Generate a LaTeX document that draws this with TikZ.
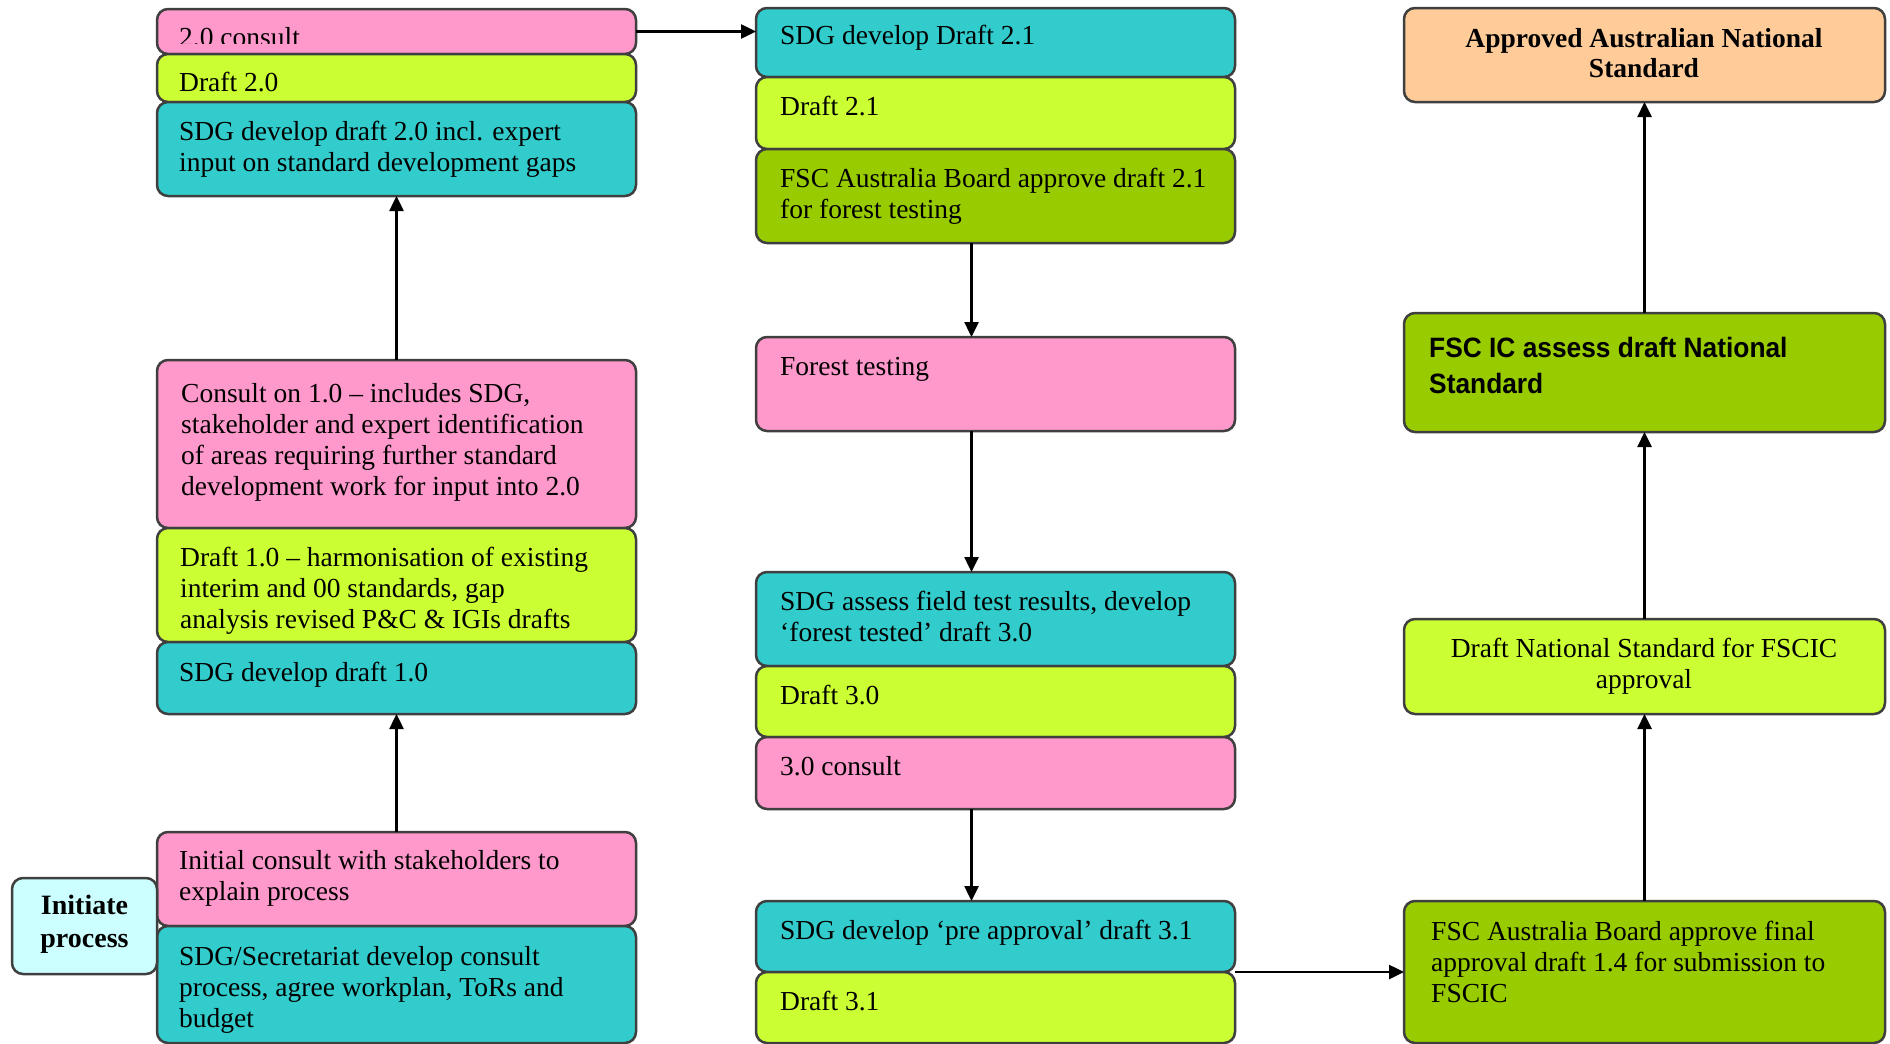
\documentclass[tikz,border=0pt]{standalone}
\usepackage{fontspec}
\setmainfont{Liberation Serif}
\newfontfamily\hsans[FakeStretch=0.94]{Liberation Sans}
\usetikzlibrary{arrows.meta}
\definecolor{cpink}{HTML}{FF99CC}
\definecolor{clime}{HTML}{CCFF33}
\definecolor{cteal}{HTML}{33CCCC}
\definecolor{cgreen}{HTML}{99CC00}
\definecolor{cpeach}{HTML}{FFCC99}
\definecolor{ccyan}{HTML}{CCFFFF}
\definecolor{cline}{HTML}{3F3F3F}
\newcommand\lines[1]{\vtop{\halign{##\hfil\cr #1\crcr}}}
\newcommand\clines[1]{\vtop{\halign{\hfil##\hfil\cr #1\crcr}}}
\tikzset{
  box/.style={draw=cline, line width=2.5pt, rounded corners=11pt, inner sep=0pt, outer sep=0pt, anchor=north west},
  txt/.style={inner sep=0pt, anchor=base west, font=\fontsize{27.5}{31}\selectfont},
  ctxt/.style={inner sep=0pt, anchor=base, font=\fontsize{27.5}{31}\selectfont},
  arr/.style={draw=black, line width=2.5pt, -{Triangle[length=15pt,width=14pt]}}
}
\newcommand\bx[6]{\node[box, fill=#2, minimum width={#5pt-#3pt}, minimum height={#6pt-#4pt}] (#1) at (#3,#4) {};}
\begin{document}
\begin{tikzpicture}[x=1pt,y=-1pt]
\useasboundingbox (0,0) rectangle (1890,1044);
% ---------- left column ----------
\bx{c20}{cpink}{157}{9}{636}{54}
\begin{scope}
\clip (157,9) rectangle (636,43.5);
\node[txt] (c20t) at (179,46.5) {\lines{2.0 consult}};
\end{scope}
\bx{d20}{clime}{157}{54}{636}{102}
\node[txt] (d20t) at (179,91) {\lines{Draft 2.0}};
\bx{s20}{cteal}{157}{102}{636}{196}
\node[txt] (s20t) at (179,140) {\lines{SDG develop draft 2.0 incl. expert\cr input on standard development gaps}};
\bx{c10}{cpink}{157}{360}{636}{528}
\node[txt] (c10t) at (181,402) {\lines{Consult on 1.0 – includes SDG,\cr stakeholder and expert identification\cr of areas requiring further standard\cr development work for input into 2.0}};
\bx{d10}{clime}{157}{528}{636}{642}
\node[txt] (d10t) at (180,566) {\lines{Draft 1.0 – harmonisation of existing\cr interim and 00 standards, gap\cr analysis revised P\&C \& IGIs drafts}};
\bx{s10}{cteal}{157}{642}{636}{714}
\node[txt] (s10t) at (179,681) {\lines{SDG develop draft 1.0}};
\bx{ic}{cpink}{157}{832}{636}{926}
\node[txt] (ict) at (179,869) {\lines{Initial consult with stakeholders to\cr explain process}};
\bx{ss}{cteal}{157}{926}{636}{1043}
\node[txt] (sst) at (179,965) {\lines{SDG/Secretariat develop consult\cr process, agree workplan, ToRs and\cr budget}};
\bx{init}{ccyan}{12}{878}{157}{974}
\node[ctxt, font=\bfseries\fontsize{28}{33}\selectfont] (initt) at (84.5,914) {\clines{Initiate\cr process}};
% ---------- middle column ----------
\bx{s21}{cteal}{756}{8}{1235}{77}
\node[txt] (s21t) at (780,44) {\lines{SDG develop Draft 2.1}};
\bx{d21}{clime}{756}{77}{1235}{149}
\node[txt] (d21t) at (780,115) {\lines{Draft 2.1}};
\bx{b21}{cgreen}{756}{149}{1235}{243}
\node[txt] (b21t) at (780,187) {\lines{FSC Australia Board approve draft 2.1\cr for forest testing}};
\bx{ft}{cpink}{756}{337}{1235}{431}
\node[txt] (ftt) at (780,375) {\lines{Forest testing}};
\bx{sa}{cteal}{756}{572}{1235}{666}
\node[txt] (sat) at (780,610) {\lines{SDG assess field test results, develop\cr ‘forest tested’ draft 3.0}};
\bx{d30}{clime}{756}{666}{1235}{737}
\node[txt] (d30t) at (780,704) {\lines{Draft 3.0}};
\bx{c30}{cpink}{756}{737}{1235}{809}
\node[txt] (c30t) at (780,775) {\lines{3.0 consult}};
\bx{pa}{cteal}{756}{901}{1235}{972}
\node[txt] (pat) at (780,939) {\lines{SDG develop ‘pre approval’ draft 3.1}};
\bx{d31}{clime}{756}{972}{1235}{1043}
\node[txt] (d31t) at (780,1010) {\lines{Draft 3.1}};
% ---------- right column ----------
\bx{ap}{cpeach}{1404}{8}{1885}{102}
\node[ctxt, font=\bfseries\fontsize{27.5}{30}\selectfont] (apt) at (1644,47) {\clines{Approved Australian National\cr Standard}};
\bx{fic}{cgreen}{1404}{313}{1885}{432}
\node[txt, font=\hsans\bfseries\fontsize{28}{36}\selectfont] (fict) at (1429,357) {\lines{FSC IC assess draft National\cr Standard}};
\bx{dn}{clime}{1404}{619}{1885}{714}
\node[ctxt] (dnt) at (1644,657) {\clines{Draft National Standard for FSCIC\cr approval}};
\bx{ff}{cgreen}{1404}{901}{1885}{1043}
\node[txt] (fft) at (1431,940) {\lines{FSC Australia Board approve final\cr approval draft 1.4 for submission to\cr FSCIC}};
% ---------- connectors ----------
\coordinate (mx) at (971.5,0);
\draw[arr] (c20.east) -- (c20.east -| s21.west);
\draw[arr] (c10.north) -- (s20.south);
\draw[arr] (ic.north) -- (s10.south);
\draw[arr] (b21.south -| mx) -- (ft.north -| mx);
\draw[arr] (ft.south -| mx) -- (sa.north -| mx);
\draw[arr] (c30.south -| mx) -- (pa.north -| mx);
\draw[arr] (pa.south east) -- (pa.south east -| ff.west);
\draw[arr] (ff.north) -- (dn.south);
\draw[arr] (dn.north) -- (fic.south);
\draw[arr] (fic.north) -- (ap.south);
\end{tikzpicture}
\end{document}
